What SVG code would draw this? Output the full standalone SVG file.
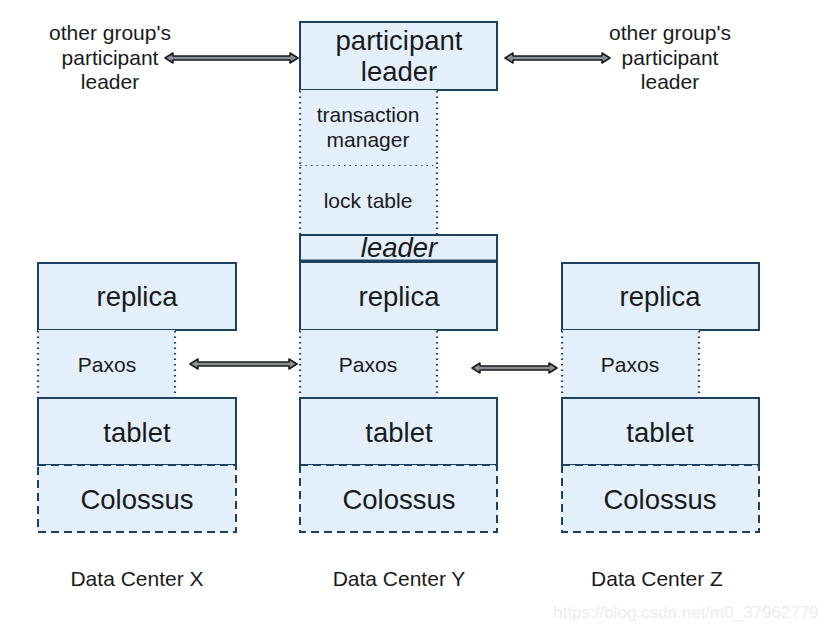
<svg xmlns="http://www.w3.org/2000/svg" width="818" height="630" viewBox="0 0 818 630">
<style>
text{font-family:"Liberation Sans",Arial,sans-serif;fill:#1a1a1a;text-anchor:middle}
.box{fill:#e3f0fc;stroke:#1d3f60;stroke-width:2}
.dot{fill:#e3f0fc;stroke:none}
.dl{stroke:#1d3f60;stroke-width:2.2;stroke-dasharray:1.5 4;fill:none}
.dash{fill:#e3f0fc;stroke:#1d3f60;stroke-width:2;stroke-dasharray:8 5}
.arr{fill:#8a8f96;stroke:#1a1a1a;stroke-width:1.5;stroke-linejoin:round}
.big{font-size:27.5px}
.mid{font-size:21px}
.lbl{font-size:21px}
</style>
<rect width="818" height="630" fill="#ffffff"/>
<g id="connectors">
<path class="arr" d="M165,58 L173,53 L173,56 L290,56 L290,53 L298,58 L290,63 L290,60 L173,60 L173,63 Z"/>
<path class="arr" d="M505,58 L513,53 L513,56 L602,56 L602,53 L610,58 L602,63 L602,60 L513,60 L513,63 Z"/>
<path class="arr" d="M190,364 L198,359 L198,362 L289,362 L289,359 L297,364 L289,369 L289,366 L198,366 L198,369 Z"/>
<path class="arr" d="M472,368 L480,363 L480,366 L549,366 L549,363 L557,368 L549,373 L549,370 L480,370 L480,373 Z"/>
</g>
<g id="other-left"><text class="lbl" x="110" y="40">other group's</text><text class="lbl" x="110" y="65">participant</text><text class="lbl" x="110" y="89">leader</text></g>
<g id="other-right"><text class="lbl" x="670" y="40">other group's</text><text class="lbl" x="670" y="65">participant</text><text class="lbl" x="670" y="89">leader</text></g>
<g id="participant-leader"><rect class="box" x="300" y="22" width="197" height="68"/><text class="big" x="399" y="50">participant</text><text class="big" x="399" y="81">leader</text></g>
<g id="transaction-manager"><rect class="dot" x="300" y="90" width="137" height="76"/><path class="dl" d="M300,91 V166 M437,91 V166 M300,166 H437"/><text class="mid" x="368" y="122">transaction</text><text class="mid" x="368" y="147">manager</text></g>
<g id="lock-table"><rect class="dot" x="300" y="166" width="137" height="68"/><path class="dl" d="M300,167 V234 M437,167 V234"/><text class="mid" x="368" y="208">lock table</text></g>
<g id="leader"><rect class="box" x="300" y="235" width="197" height="27"/><line x1="300" y1="261" x2="497" y2="261" stroke="#1d3f60" stroke-width="3"/><text class="big" x="399" y="257" font-style="italic">leader</text></g>
<g id="replica-x"><rect class="box" x="38" y="263" width="198" height="67"/><text class="big" x="137" y="306">replica</text></g>
<g id="replica-y"><rect class="box" x="300" y="262" width="197" height="68"/><text class="big" x="399" y="306">replica</text></g>
<g id="replica-z"><rect class="box" x="562" y="263" width="197" height="67"/><text class="big" x="660" y="306">replica</text></g>
<g id="paxos-x"><rect class="dot" x="38" y="330" width="137" height="68"/><path class="dl" d="M38,331 V397 M175,331 V397"/><text class="mid" x="107" y="372">Paxos</text></g>
<g id="paxos-y"><rect class="dot" x="300" y="330" width="137" height="68"/><path class="dl" d="M300,331 V397 M437,331 V397"/><text class="mid" x="368" y="372">Paxos</text></g>
<g id="paxos-z"><rect class="dot" x="562" y="330" width="137" height="68"/><path class="dl" d="M562,331 V397 M699,331 V397"/><text class="mid" x="630" y="372">Paxos</text></g>
<g id="tablet-x"><rect class="box" x="38" y="398" width="198" height="67"/><text class="big" x="137" y="442">tablet</text></g>
<g id="tablet-y"><rect class="box" x="300" y="398" width="197" height="67"/><text class="big" x="399" y="442">tablet</text></g>
<g id="tablet-z"><rect class="box" x="562" y="398" width="197" height="67"/><text class="big" x="660" y="442">tablet</text></g>
<g id="colossus-x"><rect class="dash" x="38" y="465" width="198" height="67"/><text class="big" x="137" y="509">Colossus</text></g>
<g id="colossus-y"><rect class="dash" x="300" y="465" width="197" height="67"/><text class="big" x="399" y="509">Colossus</text></g>
<g id="colossus-z"><rect class="dash" x="562" y="465" width="197" height="67"/><text class="big" x="660" y="509">Colossus</text></g>
<g id="labels"><text class="lbl" x="137" y="586">Data Center X</text><text class="lbl" x="399" y="586">Data Center Y</text><text class="lbl" x="657" y="586">Data Center Z</text></g>
<text x="686" y="618" font-size="17" style="fill:#ececec">https://blog.csdn.net/m0_37962779</text>
</svg>
